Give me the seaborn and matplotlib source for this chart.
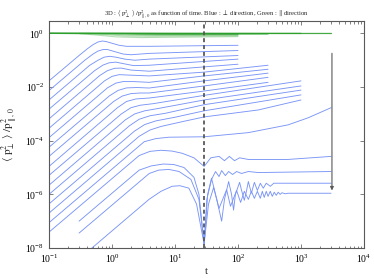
import pandas as pd
import seaborn as sns
import matplotlib.pyplot as plt
from matplotlib.ticker import LogLocator, NullLocator, NullFormatter

# knot points (t, <p_perp^2>/p_par0^2), one list per run
# group 1: runs stopped at t = 100
blue_1 = [(0.1, 1.7e-2), (0.3, 0.15), (0.4, 0.26), (0.5, 0.38), (0.6, 0.48), (0.7, 0.52), (0.8, 0.5), (1.0, 0.43),
          (1.3, 0.36), (1.7, 0.33), (3.9, 0.33), (100, 0.36)]
blue_2 = [(0.1, 7.4e-3), (0.37, 0.1), (0.5, 0.17), (0.6, 0.22), (0.72, 0.25), (0.85, 0.25), (1.1, 0.21), (1.5, 0.17),
          (2.0, 0.16), (3.9, 0.18), (100, 0.23)]
blue_3 = [(0.1, 3.3e-3), (0.44, 0.064), (0.6, 0.1), (0.75, 0.13), (0.92, 0.14), (1.15, 0.13), (1.6, 0.11), (2.3, 0.1),
          (3.9, 0.11), (100, 0.15)]
blue_4 = [(0.1, 1.5e-3), (0.53, 0.041), (0.72, 0.066), (0.9, 0.08), (1.15, 0.085), (1.5, 0.075), (2.2, 0.063),
          (3.9, 0.065), (100, 0.11)]
blue_5 = [(0.1, 6.5e-4), (0.64, 0.027), (0.85, 0.041), (1.1, 0.05), (1.4, 0.051), (2.0, 0.043), (3.9, 0.039), (100, 0.071)]
# group 2: stopped at t = 300
blue_6 = [(0.1, 2.9e-4), (0.76, 0.017), (1.0, 0.025), (1.3, 0.029), (1.8, 0.028), (3.9, 0.026), (29, 0.036), (300, 0.065)]
blue_7 = [(0.1, 1.3e-4), (0.85, 9.4e-3), (1.15, 0.014), (1.5, 0.016), (2.2, 0.016), (3.9, 0.015), (29, 0.026), (300, 0.046)]
blue_8 = [(0.1, 5.7e-5), (0.91, 4.7e-3), (1.25, 7.5e-3), (1.7, 9.3e-3), (2.5, 9.6e-3), (3.9, 9.2e-3), (29, 0.017),
          (300, 0.033)]
blue_9 = [(0.1, 2.6e-5), (1.06, 2.9e-3), (1.45, 4.6e-3), (2.0, 5.7e-3), (2.8, 6.0e-3), (3.9, 6.0e-3), (29, 0.011),
          (300, 0.023)]
blue_10 = [(0.1, 1.1e-5), (1.22, 1.7e-3), (1.7, 2.9e-3), (2.4, 3.6e-3), (3.9, 3.9e-3), (29, 7.1e-3), (300, 0.015)]
# group 3: stopped at t = 1000
blue_11 = [(0.1, 5.1e-6), (1.41, 1.0e-3), (2.0, 1.7e-3), (2.8, 2.1e-3), (4.5, 2.4e-3), (29, 4.9e-3), (1000, 0.017)]
blue_12 = [(0.1, 2.2e-6), (1.63, 6e-4), (2.3, 1.0e-3), (3.3, 1.3e-3), (5.5, 1.6e-3), (29, 3.3e-3), (1000, 0.011)]
blue_13 = [(0.1, 1e-6), (1.89, 3.6e-4), (2.7, 6.3e-4), (4.0, 8.5e-4), (7, 1.05e-3), (29, 2.2e-3), (1000, 7.7e-3)]
blue_14 = [(0.1, 4.4e-7), (2.26, 2.25e-4), (3.3, 4.0e-4), (5, 5.5e-4), (10, 7.5e-4), (29, 1.3e-3), (1000, 5.1e-3)]
blue_15 = [(0.1, 2e-7), (2.7, 1.46e-4), (4, 2.5e-4), (6, 3.4e-4), (13.9, 5.3e-4), (29, 7.7e-4), (210, 1.4e-3),
           (1000, 3.3e-3)]
# group 4: stopped at t = 3000
blue_16 = [(0.1, 8.8e-8), (3.25, 9.2e-5), (5, 1.2e-4), (8, 1.35e-4), (29, 1.4e-4), (146, 2e-4), (624, 3.9e-4),
           (1290, 7.1e-4), (3000, 1.7e-3)]
blue_17 = [(0.1, 3.9e-8), (2.7, 2.8e-5), (4, 4e-5), (6, 4.4e-5), (9, 4.1e-5), (13, 3.4e-5), (20, 2.3e-5), (29, 1.1e-5),
           (37, 2.3e-5), (50, 2.6e-5), (61, 1.8e-5), (73, 2.6e-5), (88, 1.8e-5), (106, 2.3e-5), (146, 2.0e-5),
           (620, 2.0e-5), (3000, 2.6e-5)]
blue_18 = [(0.3, 1e-7), (2.7, 8.0e-6), (4.2, 1.15e-5), (6.5, 1.35e-5), (9.5, 1.3e-5), (13.9, 1e-5), (20, 4.3e-6),
           (24, 1e-6), (29, 1.4e-8), (32, 6.5e-7), (38, 3.6e-6), (44, 7.1e-6), (50, 4.6e-6), (55, 7.7e-6), (63, 5e-6),
           (71, 7.1e-6), (82, 5.5e-6), (95, 7.1e-6), (114, 6e-6), (146, 7.1e-6), (210, 6.5e-6), (3000, 7.1e-6)]
blue_19 = [(0.3, 3.6e-8), (3.9, 6.0e-6), (5.5, 8e-6), (8, 8.5e-6), (11.6, 7.1e-6), (17.9, 3.6e-6), (24, 6.5e-7),
           (29, 1.4e-8), (33, 1e-6), (38, 4e-6), (46, 6.5e-7), (55, 1e-7), (61, 6.5e-7), (71, 3e-6), (79, 1e-6),
           (85, 2.6e-7), (91, 1e-6), (106, 2.8e-6), (114, 1.4e-6), (126, 6e-7), (136, 1.3e-6), (146, 3e-6),
           (163, 1.1e-6), (182, 2.8e-6), (203, 1.4e-6), (226, 2.6e-6), (252, 1.7e-6), (281, 2.6e-6), (325, 2.0e-6),
           (370, 2.6e-6), (3000, 2.6e-6)]
blue_20 = [(0.3, 3.9e-9), (3.9, 6.6e-7), (6, 1.3e-6), (9, 2e-6), (12, 2.1e-6), (16.6, 1.7e-6), (22, 4.3e-7),
           (29, 1.4e-8), (34, 4.3e-7), (41, 1.8e-6), (50, 3e-7), (66, 1.5e-6), (76, 3.6e-7), (95, 1.4e-6), (110, 5e-7),
           (126, 1.3e-6), (146, 6.5e-7), (163, 1.3e-6), (182, 7.1e-7), (203, 1.3e-6), (226, 7.1e-7), (243, 1.3e-6),
           (261, 7.7e-7), (281, 1.3e-6), (300, 8.4e-7), (325, 1.3e-6), (350, 8.4e-7), (376, 1.2e-6), (405, 9.2e-7),
           (434, 1.2e-6), (467, 1.0e-6), (500, 1.15e-6), (560, 1.05e-6), (620, 1.1e-6), (3000, 1.1e-6)]

# parallel direction, same runs
green_1 = [(0.1, 1.0), (0.3, 0.98), (0.6, 0.86), (1.2, 0.74), (3, 0.7), (10, 0.72), (30, 0.74), (100, 0.76)]
green_2 = [(0.1, 1.0), (0.4, 0.98), (0.8, 0.9), (1.6, 0.8), (4, 0.78), (30, 0.8), (100, 0.82)]
green_3 = [(0.1, 1.0), (0.5, 0.99), (1, 0.93), (2, 0.86), (5, 0.84), (30, 0.85), (100, 0.87)]
green_4 = [(0.1, 1.0), (0.7, 0.99), (1.4, 0.95), (3, 0.9), (8, 0.89), (100, 0.9)]
green_5 = [(0.1, 1.0), (1, 0.99), (2, 0.96), (4, 0.93), (10, 0.92), (100, 0.93)]
green_6 = [(0.1, 1.0), (1.2, 0.99), (2.5, 0.96), (6, 0.93), (30, 0.93), (300, 0.95)]
green_7 = [(0.1, 1.0), (1.5, 0.995), (3, 0.97), (8, 0.95), (300, 0.96)]
green_8 = [(0.1, 1.0), (2, 0.995), (4, 0.98), (10, 0.97), (300, 0.975)]
green_9 = [(0.1, 1.0), (3, 0.995), (6, 0.985), (300, 0.98)]
green_10 = [(0.1, 1.0), (4, 0.998), (8, 0.99), (300, 0.985)]
green_11 = [(0.1, 1.0), (5, 0.998), (1000, 0.99)]
green_12 = [(0.1, 1.0), (6, 0.999), (1000, 0.993)]
green_13 = [(0.1, 1.0), (8, 0.999), (1000, 0.995)]
green_14 = [(0.1, 1.0), (10, 0.999), (1000, 0.997)]
green_15 = [(0.1, 1.0), (12, 0.999), (1000, 0.998)]
green_16 = [(0.1, 1.0), (3000, 0.999)]
green_17 = [(0.1, 1.0), (3000, 1.0)]
green_18 = [(0.3, 1.0), (3000, 1.0)]
green_19 = [(0.3, 1.0), (3000, 1.0)]
green_20 = [(0.3, 1.0), (3000, 1.0)]

blue_runs = [blue_1, blue_2, blue_3, blue_4, blue_5, blue_6, blue_7, blue_8, blue_9, blue_10,
             blue_11, blue_12, blue_13, blue_14, blue_15, blue_16, blue_17, blue_18, blue_19, blue_20]
green_runs = [green_1, green_2, green_3, green_4, green_5, green_6, green_7, green_8, green_9, green_10,
              green_11, green_12, green_13, green_14, green_15, green_16, green_17, green_18, green_19, green_20]

t_mark = 29            # dashed line
arrow_t = 3100
arrow_top, arrow_bottom = 0.23, 1.1e-6

def to_frame(runs):
    rows = [(i, t, v) for i, run in enumerate(runs) for t, v in run]
    return pd.DataFrame(rows, columns=['run', 't', 'v'])

df_blue = to_frame(blue_runs)
df_green = to_frame(green_runs)

sns.set_style('ticks')
plt.rcParams['font.family'] = ['Liberation Serif', 'DejaVu Serif']
plt.rcParams['mathtext.fontset'] = 'stix'

fig = plt.figure(figsize=(3.74, 2.78), dpi=100)
ax = fig.add_axes([49 / 374, 30 / 278, 315 / 374, 227 / 278])
ax.set_xscale('log')
ax.set_yscale('log')

sns.lineplot(data=df_green, x='t', y='v', units='run', estimator=None, sort=False,
             color='#2ca02c', alpha=0.35, lw=0.8, ax=ax)
sns.lineplot(data=df_blue, x='t', y='v', units='run', estimator=None, sort=False,
             color='#7a95f7', lw=0.65, ax=ax)

ax.axvline(t_mark, color='0.35', ls=(0, (2.2, 1.6)), lw=1.3)
ax.annotate('', xy=(arrow_t, arrow_bottom), xytext=(arrow_t, arrow_top),
            arrowprops=dict(arrowstyle='-|>', color='0.35', lw=0.8, mutation_scale=5))

ax.set_xlim(0.1, 1e4)
ax.set_ylim(1e-8, 2.9)
ax.xaxis.set_major_locator(LogLocator(base=10))
ax.xaxis.set_minor_locator(LogLocator(base=10, subs=range(2, 10)))
ax.xaxis.set_minor_formatter(NullFormatter())
ax.yaxis.set_major_locator(LogLocator(base=100))
ax.yaxis.set_minor_locator(NullLocator())
ax.tick_params(which='both', direction='in', top=True, right=True, labelsize=7, width=0.5, colors='0.3',
               labelcolor='black')
ax.tick_params(which='major', length=3)
ax.tick_params(which='minor', length=1.8)
for s in ax.spines.values():
    s.set_linewidth(0.8)
    s.set_color('0.35')

ax.set_xlabel('t', fontsize=8)
ax.xaxis.set_label_coords(0.5, -0.085)
ax.set_ylabel(r'$\langle\ \mathrm{p}_{\perp}^{2}\ \rangle\ /\mathrm{p}_{\parallel,0}^{2}$', fontsize=8)
ax.yaxis.set_label_coords(-0.092, 0.5)
ax.set_title(r'3D : $\langle\ \mathrm{p}_{\perp}^{2}\ \rangle\ /\mathrm{p}_{\parallel,0}^{2}$ as function of time. '
             r'Blue : $\perp$ direction, Green : $\parallel$direction', fontsize=4.8, pad=3)

fig.savefig('out.png', dpi=100)
